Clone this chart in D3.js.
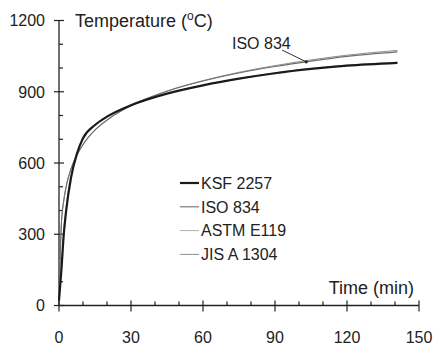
<!DOCTYPE html>
<html>
<head>
<meta charset="utf-8">
<script src="https://cdn.jsdelivr.net/npm/d3@7"></script>
<style>
  body { margin: 0; background: #fff; }
  svg { display: block; font-family: Arial, "Liberation Sans", sans-serif; }
  .domain, .tick line { stroke: #222; }
</style>
</head>
<body>
<svg id="chart" width="433" height="346"></svg>
<script>
// time points (min)
var times = [0, 1, 2, 3, 5, 7.5, 10, 15, 20, 30, 45, 60, 75, 90, 105, 120, 141];

var ksf2257 = [20, 150, 300, 400, 538, 640, 704, 760, 795, 843, 892, 927, 955, 978, 996, 1010, 1022];
var iso834 = [20, 349, 444, 502, 576, 635, 678, 739, 781, 842, 902, 945, 979, 1006, 1029, 1049, 1068];
var astmE119 = [20, 170, 320, 420, 545, 645, 706, 762, 797, 845, 893, 928, 956, 980, 998, 1012, 1024];
var jisA1304 = [20, 340, 440, 500, 575, 633, 676, 738, 780, 841, 903, 947, 982, 1010, 1034, 1054, 1074];

var xTicks = [0, 30, 60, 90, 120, 150];
var yTicks = [0, 300, 600, 900, 1200];

var series = [
  { key: 'KSF 2257', values: ksf2257, color: '#1a1a1a', width: 2.2 },
  { key: 'ISO 834', values: iso834, color: '#6f6f6f', width: 1.1 },
  { key: 'ASTM E119', values: astmE119, color: '#b0b0b0', width: 1 },
  { key: 'JIS A 1304', values: jisA1304, color: '#8e8e8e', width: 1 }
];

var svg = d3.select('#chart');

var xScale = d3.scaleLinear().domain([0, 150]).range([59, 419]);
var yScale = d3.scaleLinear().domain([0, 1200]).range([305.5, 20.5]);

// x axis: minor ticks every 10 min above the line, major ticks crossing it
var xAxis = svg.append('g').attr('transform', 'translate(0,' + yScale(0) + ')');
xAxis.append('line')
  .attr('x1', xScale(0)).attr('x2', xScale(150))
  .attr('stroke', '#222').attr('stroke-width', 1.3);
xAxis.selectAll('line.minor')
  .data(d3.range(10, 150, 10).filter(function(d) { return d % 30 !== 0; }))
  .enter().append('line')
  .attr('class', 'minor')
  .attr('x1', function(d) { return xScale(d); })
  .attr('x2', function(d) { return xScale(d); })
  .attr('y1', 0).attr('y2', -4)
  .attr('stroke', '#222').attr('stroke-width', 1.2);
xAxis.selectAll('line.major')
  .data(xTicks)
  .enter().append('line')
  .attr('class', 'major')
  .attr('x1', function(d) { return xScale(d); })
  .attr('x2', function(d) { return xScale(d); })
  .attr('y1', -5).attr('y2', 6)
  .attr('stroke', '#222').attr('stroke-width', 1.2);
xAxis.selectAll('text')
  .data(xTicks)
  .enter().append('text')
  .attr('x', function(d) { return xScale(d); })
  .attr('y', 37)
  .attr('text-anchor', 'middle')
  .attr('font-size', 16)
  .attr('fill', '#222')
  .text(function(d) { return d; });

// y axis
var yAxis = svg.append('g').attr('transform', 'translate(' + xScale(0) + ',0)');
yAxis.append('line')
  .attr('y1', yScale(0)).attr('y2', yScale(1200))
  .attr('stroke', '#222').attr('stroke-width', 1.3);
yAxis.selectAll('line.minor')
  .data(d3.range(100, 1200, 100).filter(function(d) { return d % 300 !== 0; }))
  .enter().append('line')
  .attr('class', 'minor')
  .attr('y1', function(d) { return yScale(d); })
  .attr('y2', function(d) { return yScale(d); })
  .attr('x1', 0).attr('x2', 4)
  .attr('stroke', '#222').attr('stroke-width', 1.2);
yAxis.selectAll('line.major')
  .data(yTicks)
  .enter().append('line')
  .attr('class', 'major')
  .attr('y1', function(d) { return yScale(d); })
  .attr('y2', function(d) { return yScale(d); })
  .attr('x1', -5).attr('x2', 5)
  .attr('stroke', '#222').attr('stroke-width', 1.2);
yAxis.selectAll('text')
  .data(yTicks)
  .enter().append('text')
  .attr('x', -14)
  .attr('y', function(d) { return yScale(d); })
  .attr('dy', '0.36em')
  .attr('text-anchor', 'end')
  .attr('font-size', 16)
  .attr('fill', '#222')
  .text(function(d) { return d; });

// axis titles
var yTitle = svg.append('text')
  .attr('x', 75).attr('y', 27)
  .attr('font-size', 18)
  .attr('fill', '#222');
yTitle.append('tspan').text('Temperature (');
yTitle.append('tspan').attr('font-size', 12).attr('dy', -7).text('o');
yTitle.append('tspan').attr('dy', 7).text('C)');

svg.append('text')
  .attr('x', 414).attr('y', 294)
  .attr('text-anchor', 'end')
  .attr('font-size', 18)
  .attr('fill', '#222')
  .text('Time (min)');

// curves
var line = d3.line()
  .x(function(d) { return xScale(d[0]); })
  .y(function(d) { return yScale(d[1]); })
  .curve(d3.curveMonotoneX);

svg.append('g').selectAll('path')
  .data(series.slice().reverse())
  .enter().append('path')
  .attr('fill', 'none')
  .attr('stroke', function(d) { return d.color; })
  .attr('stroke-width', function(d) { return d.width; })
  .attr('d', function(d) {
    return line(d.values.map(function(v, i) { return [times[i], v]; }));
  });

// annotation pointing at the ISO 834 curve
var tAnn = 103;
var yAnn = yScale(d3.interpolateNumber(iso834[13], iso834[14])((tAnn - 90) / 15));
svg.append('text')
  .attr('x', 232).attr('y', 49)
  .attr('font-size', 16)
  .attr('fill', '#222')
  .text('ISO 834');
svg.append('line')
  .attr('x1', 282).attr('y1', 50)
  .attr('x2', xScale(tAnn)).attr('y2', yAnn)
  .attr('stroke', '#333').attr('stroke-width', 1);
svg.append('circle')
  .attr('cx', xScale(tAnn)).attr('cy', yAnn)
  .attr('r', 1.6).attr('fill', '#222');

// legend
var legend = svg.append('g').selectAll('g')
  .data(series)
  .enter().append('g')
  .attr('transform', function(d, i) { return 'translate(180,' + (183 + i * 23.8) + ')'; });

legend.append('line')
  .attr('x1', 0).attr('x2', 19)
  .attr('stroke', function(d) { return d.color; })
  .attr('stroke-width', function(d) { return d.width; });

legend.append('text')
  .attr('x', 21)
  .attr('dy', '0.36em')
  .attr('font-size', 16)
  .attr('fill', '#222')
  .text(function(d) { return d.key; });
</script>
</body>
</html>
